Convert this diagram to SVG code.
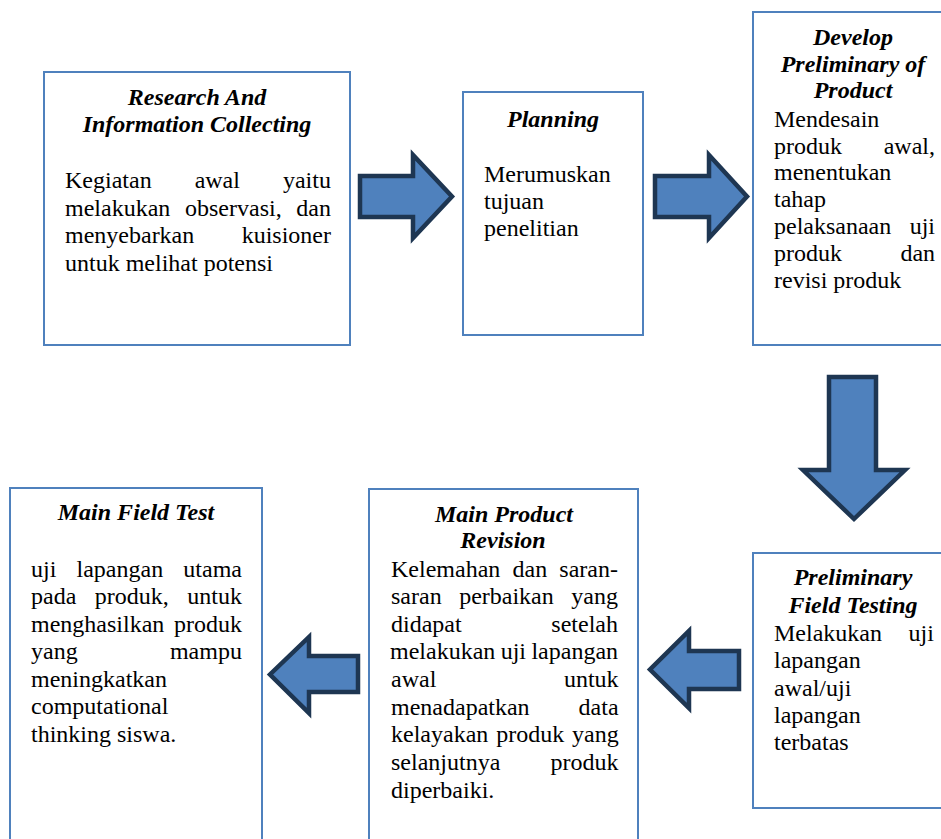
<svg xmlns="http://www.w3.org/2000/svg" width="941" height="839" viewBox="0 0 941 839">
<style>
.box{fill:#fff;stroke:#4f81bd;stroke-width:2}
.t{font-family:"Liberation Serif","Times New Roman",serif;font-size:24px;font-weight:bold;font-style:italic;fill:#000;text-anchor:middle}
.b{font-family:"Liberation Serif","Times New Roman",serif;font-size:24px;fill:#000}
.arr{fill:#4f81bd;stroke:#1e3652;stroke-width:4.5;stroke-linejoin:miter}
</style>
<rect width="941" height="839" fill="#fff"/>
<g id="research">
<rect class="box" x="44" y="72" width="306" height="273"/>
<text class="t" x="197" y="105">Research And</text>
<text class="t" x="197" y="132">Information Collecting</text>
<text class="b" x="65" y="188" word-spacing="37">Kegiatan awal yaitu</text>
<text class="b" x="65" y="216" word-spacing="8.7">melakukan observasi, dan</text>
<text class="b" x="65" y="243" word-spacing="41.4">menyebarkan kuisioner</text>
<text class="b" x="65" y="271">untuk melihat potensi</text>
</g>
<g id="planning">
<rect class="box" x="463" y="92" width="180" height="243"/>
<text class="t" x="553" y="127">Planning</text>
<text class="b" x="484" y="182">Merumuskan</text>
<text class="b" x="484" y="209">tujuan</text>
<text class="b" x="484" y="236">penelitian</text>
</g>
<g id="develop">
<rect class="box" x="753" y="12" width="210" height="333"/>
<text class="t" x="853" y="45">Develop</text>
<text class="t" x="853" y="72">Preliminary of</text>
<text class="t" x="853" y="98">Product</text>
<text class="b" x="774" y="127">Mendesain</text>
<text class="b" x="774" y="154" word-spacing="35.7">produk awal,</text>
<text class="b" x="774" y="180">menentukan</text>
<text class="b" x="774" y="207">tahap</text>
<text class="b" x="774" y="234" word-spacing="12.4">pelaksanaan uji</text>
<text class="b" x="774" y="261" word-spacing="52.4">produk dan</text>
<text class="b" x="774" y="288">revisi produk</text>
</g>
<g id="preliminary">
<rect class="box" x="753" y="553" width="210" height="255"/>
<text class="t" x="853" y="585">Preliminary</text>
<text class="t" x="853" y="613">Field Testing</text>
<text class="b" x="774" y="641" word-spacing="20.5">Melakukan uji</text>
<text class="b" x="774" y="668">lapangan</text>
<text class="b" x="774" y="696">awal/uji</text>
<text class="b" x="774" y="723">lapangan</text>
<text class="b" x="774" y="750">terbatas</text>
</g>
<g id="revision">
<rect class="box" x="369" y="489" width="269" height="360"/>
<text class="t" x="504" y="522">Main Product</text>
<text class="t" x="503" y="548">Revision</text>
<text class="b" x="391" y="577" word-spacing="6.2">Kelemahan dan saran-</text>
<text class="b" x="391" y="604" word-spacing="11.5">saran perbaikan yang</text>
<text class="b" x="391" y="632" word-spacing="83.7">didapat setelah</text>
<text class="b" x="390" y="659" word-spacing="-0.6">melakukan uji lapangan</text>
<text class="b" x="391" y="687" word-spacing="121.6">awal untuk</text>
<text class="b" x="391" y="715" word-spacing="43">menadapatkan data</text>
<text class="b" x="391" y="742" word-spacing="1.9">kelayakan produk yang</text>
<text class="b" x="391" y="770" word-spacing="44.3">selanjutnya produk</text>
<text class="b" x="391" y="798">diperbaiki.</text>
</g>
<g id="mainfield">
<rect class="box" x="10" y="488" width="252" height="360"/>
<text class="t" x="136" y="520">Main Field Test</text>
<text class="b" x="31" y="577" word-spacing="14.2">uji lapangan utama</text>
<text class="b" x="31" y="604" word-spacing="12.5">pada produk, untuk</text>
<text class="b" x="31" y="632" word-spacing="3.7">menghasilkan produk</text>
<text class="b" x="31" y="659" word-spacing="86.3">yang mampu</text>
<text class="b" x="31" y="687">meningkatkan</text>
<text class="b" x="31" y="714">computational</text>
<text class="b" x="31" y="742">thinking siswa.</text>
</g>
<g id="connectors">
<polygon class="arr" points="360,176 413,176 413,155 452,196.5 413,238 413,217 360,217"/>
<polygon class="arr" points="655,176 709,176 709,155 747,196.5 709,238 709,217 655,217"/>
<polygon class="arr" points="829,377 876,377 876,470 905,470 854,519 803,470 829,470"/>
<polygon class="arr" points="739,651 689,651 689,631 650,669.5 689,708 689,689 739,689"/>
<polygon class="arr" points="358,656 309,656 309,637 270,674.5 309,713 309,692 358,692"/>
</g>
</svg>
